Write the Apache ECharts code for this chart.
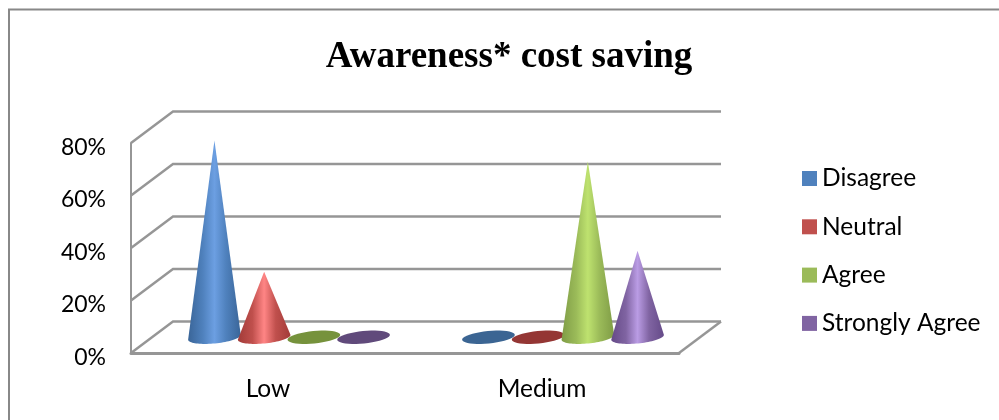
<!DOCTYPE html>
<html>
<head>
<meta charset="utf-8">
<title>Awareness* cost saving</title>
<style>
  html, body { margin: 0; padding: 0; background: #fff; }
  #chart { width: 999px; height: 420px; }
</style>
<script src="https://cdn.jsdelivr.net/npm/echarts@6/dist/echarts.min.js"></script>
</head>
<body>
<div id="chart"></div>
<script>
// Share of respondents (%) per awareness level
const categories = ['Low', 'Medium'];
const seriesNames = ['Disagree', 'Neutral', 'Agree', 'Strongly Agree'];
const disagree = [75, 0];
const neutral = [25, 0];
const agree = [0, 67];
const stronglyAgree = [0, 33];
const valueTicks = [0, 20, 40, 60, 80];

const seriesValues = [disagree, neutral, agree, stronglyAgree];

// Per-series colours: legend swatch, cone edge, cone highlight, flat disc
const swatchColors = ['#4F81BD', '#C0504D', '#9BBB59', '#8064A2'];
const edgeColors = ['#3A6598', '#A23B38', '#7F9C46', '#654A88'];
const glowColors = ['#6C9FE2', '#FF8585', '#BEE26F', '#BA9CE4'];
const discColors = ['#3B6593', '#943634', '#76923C', '#604A7B'];

const FONT = 'Lato, "Noto Sans", sans-serif';
const WALL = '#969696';
const AXIS = '#969696';

// Oblique projection of the floor: screen offset from front edge to back wall
const DEPTH_X = 42;
const DEPTH_Y = -31.5;
// Cone layout, as fractions of one category band
const SLOT = 0.1814;
const BASE_RX = 0.0965;
const BASE_RY = 6.2;
const TILT = -5.5 * Math.PI / 180;

function baseRing(cx, cy, rx, from, to) {
  const pts = [];
  const steps = 40;
  for (let i = 0; i <= steps; i++) {
    const t = from + (to - from) * i / steps;
    const px = rx * Math.cos(t);
    const py = BASE_RY * Math.sin(t);
    pts.push([
      cx + px * Math.cos(TILT) - py * Math.sin(TILT),
      cy + px * Math.sin(TILT) + py * Math.cos(TILT)
    ]);
  }
  return pts;
}

function coneSeries(name, idx) {
  return {
    name: name,
    type: 'custom',
    coordinateSystem: 'cartesian2d',
    clip: false,
    silent: true,
    z: 5 + idx,
    itemStyle: { color: swatchColors[idx] },
    data: seriesValues[idx].map((v, c) => [c, v]),
    encode: { x: 0, y: 1 },
    renderItem(params, api) {
      const band = api.size([1, 0])[0];
      const c = api.value(0);
      const v = api.value(1);
      const foot = api.coord([c, 0]);
      const tip = api.coord([c, v]);
      const cx = foot[0] + (idx - 1.5) * SLOT * band + DEPTH_X / 2;
      const cy = foot[1] + DEPTH_Y / 2;
      const rx = BASE_RX * band;
      if (v <= 0) {
        return {
          type: 'polygon',
          shape: { points: baseRing(cx, cy, rx, 0, Math.PI * 2) },
          style: { fill: discColors[idx] }
        };
      }
      const apex = [cx, tip[1] + DEPTH_Y / 2];
      return {
        type: 'polygon',
        shape: { points: [apex].concat(baseRing(cx, cy, rx, 0, Math.PI)) },
        style: {
          fill: {
            type: 'linear', x: 0, y: 0, x2: 1, y2: 0,
            colorStops: [
              { offset: 0, color: edgeColors[idx] },
              { offset: 0.28, color: swatchColors[idx] },
              { offset: 0.5, color: glowColors[idx] },
              { offset: 0.72, color: swatchColors[idx] },
              { offset: 1, color: edgeColors[idx] }
            ]
          }
        }
      };
    }
  };
}

// Side wall, back wall and floor edge, drawn at each value tick
const wallSeries = {
  name: 'walls',
  type: 'custom',
  coordinateSystem: 'cartesian2d',
  clip: false,
  silent: true,
  z: 1,
  data: valueTicks.map(t => [0, t]),
  encode: { x: 0, y: 1 },
  renderItem(params, api) {
    const sys = params.coordSys;
    const v = api.value(1);
    const y = api.coord([0, v])[1];
    const left = sys.x;
    const right = sys.x + sys.width;
    const children = [{
      type: 'polyline',
      shape: { points: [[left, y], [left + DEPTH_X, y + DEPTH_Y], [right + DEPTH_X, y + DEPTH_Y]] },
      style: { stroke: WALL, lineWidth: 2.4, fill: null }
    }];
    if (v === 0) {
      children.push({
        type: 'line',
        shape: { x1: right, y1: y, x2: right + DEPTH_X, y2: y + DEPTH_Y },
        style: { stroke: WALL, lineWidth: 2.4 }
      });
    }
    return { type: 'group', children };
  }
};

const chart = echarts.init(document.getElementById('chart'));
chart.setOption({
  animation: false,
  backgroundColor: '#fff',
  title: {
    text: 'Awareness* cost saving',
    left: 504,
    top: 34,
    textAlign: 'center',
    textStyle: {
      fontFamily: '"Liberation Serif", serif',
      fontWeight: 'bold',
      fontSize: 37,
      color: '#000'
    }
  },
  graphic: [{
    type: 'polyline',
    silent: true,
    shape: { points: [[9, 420], [9, 9.5], [999, 9.5]] },
    style: { stroke: '#888', lineWidth: 2, fill: null }
  }],
  legend: {
    left: 797,
    top: 161,
    orient: 'vertical',
    icon: 'rect',
    itemWidth: 15,
    itemHeight: 15,
    itemGap: 23.3,
    data: seriesNames,
    selectedMode: false,
    textStyle: { fontFamily: FONT, fontSize: 24.5, color: '#000' }
  },
  grid: { left: 131, top: 143, width: 548, height: 210 },
  xAxis: {
    type: 'category',
    data: categories,
    axisLine: { lineStyle: { color: AXIS, width: 3 } },
    axisTick: { show: false },
    axisLabel: { fontFamily: FONT, fontSize: 24.5, color: '#000', margin: 24 },
    splitLine: { show: false }
  },
  yAxis: {
    type: 'value',
    min: 0,
    max: 80,
    interval: 20,
    axisLine: { show: true, lineStyle: { color: AXIS, width: 2 } },
    axisTick: { show: false },
    splitLine: { show: false },
    axisLabel: {
      formatter: '{value}%',
      fontFamily: FONT,
      fontSize: 23,
      color: '#000',
      margin: 25,
      verticalAlign: 'top',
      lineHeight: 9
    }
  },
  series: [wallSeries].concat(seriesNames.map(coneSeries))
});
</script>
</body>
</html>
